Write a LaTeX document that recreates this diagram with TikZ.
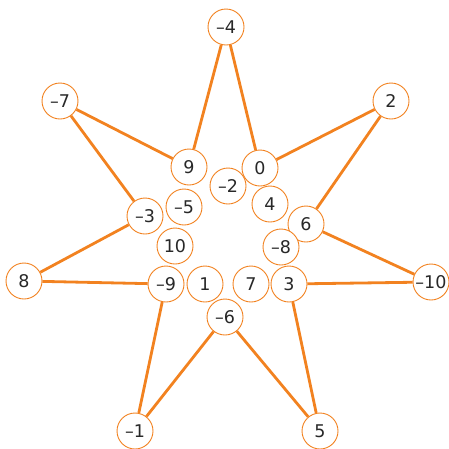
\documentclass[tikz,border=0pt]{standalone}
\usepackage{fontspec}
\setmainfont{DejaVu Sans}
\usepackage{tikz}
\definecolor{starorange}{RGB}{242,130,32}
\definecolor{numgray}{RGB}{40,40,40}

\begin{document}
\begin{tikzpicture}[x=1pt, y=-1pt, every node/.style={font=\fontsize{17.5}{19}\selectfont, text=numgray}]
\tikzstyle{num}=[circle, draw=starorange, line width=0.9pt, fill=white, minimum size=36pt, inner sep=0pt]
\tikzstyle{ray}=[draw=starorange, line width=2.8pt]
\useasboundingbox (0,0) rectangle (449,448);

% outer points
\node[num] (m4) at (226,27) {–4};
\node[num] (m7) at (60,101) {–7};
\node[num] (p2) at (391,101) {2};
\node[num] (p8) at (24,281) {8};
\node[num] (m10) at (431,282) {–10};
\node[num] (m1) at (135,431) {–1};
\node[num] (p5) at (320,431) {5};

% inner ring
\node[num] (p9) at (189,167) {9};
\node[num] (p0) at (260,168) {0};
\node[num] (m2) at (228,186) {–2};
\node[num] (m5) at (184,207) {–5};
\node[num] (p4) at (270,204) {4};
\node[num] (m3) at (145,216) {–3};
\node[num] (p6) at (306,224) {6};
\node[num] (p10) at (175,246) {10};
\node[num] (m8) at (281,247) {–8};
\node[num] (m9) at (166,284) {–9};
\node[num] (p1) at (205,284) {1};
\node[num] (p7) at (251,284) {7};
\node[num] (p3) at (289,284) {3};
\node[num] (m6) at (225,317) {–6};

% star edges
\draw[ray] (m4) -- (p9);
\draw[ray] (m4) -- (p0);
\draw[ray] (m7) -- (p9);
\draw[ray] (m7) -- (m3);
\draw[ray] (p2) -- (p0);
\draw[ray] (p2) -- (p6);
\draw[ray] (p8) -- (m3);
\draw[ray] (p8) -- (m9);
\draw[ray] (m10) -- (p6);
\draw[ray] (m10) -- (p3);
\draw[ray] (m1) -- (m9);
\draw[ray] (m1) -- (m6);
\draw[ray] (p5) -- (m6);
\draw[ray] (p5) -- (p3);
\end{tikzpicture}
\end{document}
